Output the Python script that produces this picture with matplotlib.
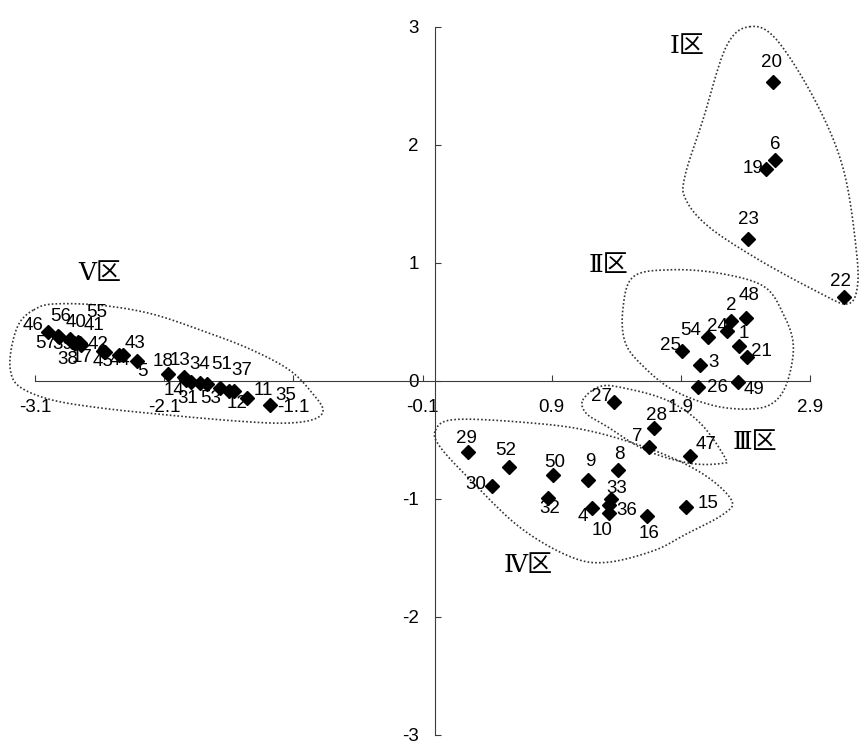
import numpy as np
import matplotlib
matplotlib.use("Agg")
import matplotlib.pyplot as plt

plt.rcParams['font.family'] = ['Liberation Sans', 'DejaVu Sans']

# ---- data: sample id, PC1 (x), PC2 (y) ----
ids = [46, 56, 57, 40, 39, 55, 41, 38, 17, 42, 45, 44, 43, 5,
       18, 13, 14, 34, 31, 53, 51, 37, 12, 11, 35,
       20, 6, 19, 23, 22,
       48, 2, 24, 54, 1, 21, 25, 3, 26, 49,
       27, 28, 7, 47,
       29, 52, 30, 50, 32, 9, 4, 8, 33, 36, 10, 16, 15]
x_vals = [-3.00, -2.92, -2.91, -2.83, -2.81, -2.77, -2.75, -2.80, -2.74, -2.57, -2.56, -2.45, -2.42, -2.31,
          -2.07, -1.95, -1.93, -1.89, -1.82, -1.77, -1.67, -1.60, -1.56, -1.46, -1.28,
          2.61, 2.63, 2.56, 2.42, 3.16,
          2.40, 2.29, 2.26, 2.11, 2.35, 2.41, 1.91, 2.05, 2.03, 2.34,
          1.38, 1.69, 1.65, 1.97,
          0.25, 0.57, 0.44, 0.91, 0.87, 1.18, 1.21, 1.41, 1.36, 1.34, 1.34, 1.64, 1.94]
y_vals = [0.41, 0.38, 0.37, 0.35, 0.33, 0.33, 0.32, 0.32, 0.30, 0.25, 0.24, 0.22, 0.22, 0.17,
          0.06, 0.03, 0.01, -0.01, -0.02, -0.03, -0.06, -0.09, -0.09, -0.15, -0.21,
          2.53, 1.87, 1.79, 1.20, 0.71,
          0.53, 0.51, 0.42, 0.37, 0.29, 0.20, 0.25, 0.13, -0.05, -0.01,
          -0.18, -0.40, -0.56, -0.64,
          -0.60, -0.73, -0.89, -0.80, -0.99, -0.84, -1.08, -0.76, -1.00, -1.05, -1.12, -1.15, -1.07]

x_ticks = [-3.1, -2.1, -1.1, -0.1, 0.9, 1.9, 2.9]
y_ticks = [-3, -2, -1, 0, 1, 2, 3]

region_names = ["Ⅰ区", "Ⅱ区", "Ⅲ区", "Ⅳ区", "Ⅴ区"]
region_text_pos = [(1.95, 2.83), (1.34, 0.98), (2.47, -0.52), (0.72, -1.57), (-2.60, 0.91)]

# outline control points of the dotted region boundaries (data coords)
outlines = [
    [(2.43, 3.00), (2.64, 2.89), (2.95, 2.35), (3.16, 1.78), (3.26, 1.08), (3.26, 0.76),
     (3.18, 0.65), (2.98, 0.74), (2.51, 1.02), (2.12, 1.30), (1.94, 1.53), (1.93, 1.73),
     (2.07, 2.21), (2.25, 2.83)],
    [(1.82, 0.94), (2.20, 0.91), (2.54, 0.80), (2.69, 0.57), (2.77, 0.30), (2.72, -0.02),
     (2.61, -0.19), (2.43, -0.24), (2.15, -0.21), (1.84, -0.08), (1.61, 0.12), (1.47, 0.32),
     (1.45, 0.60), (1.53, 0.88)],
    [(1.14, -0.165), (1.27, -0.05), (1.45, -0.06), (1.79, -0.165), (2.05, -0.36), (2.24, -0.65),
     (2.22, -0.70), (1.97, -0.70), (1.63, -0.59), (1.33, -0.39), (1.17, -0.28)],
    [(0.0, -0.42), (0.14, -0.33), (0.65, -0.35), (1.17, -0.42), (1.69, -0.59), (2.07, -0.79),
     (2.29, -1.01), (2.23, -1.13), (1.94, -1.30), (1.69, -1.44), (1.32, -1.54), (1.04, -1.49),
     (0.65, -1.24), (0.27, -0.84), (0.035, -0.56)],
    [(-3.11, 0.60), (-2.96, 0.65), (-2.60, 0.64), (-2.21, 0.57), (-1.82, 0.43), (-1.44, 0.27),
     (-1.13, 0.09), (-0.95, -0.11), (-0.87, -0.25), (-0.95, -0.33), (-1.18, -0.36), (-1.56, -0.34),
     (-2.08, -0.29), (-2.60, -0.23), (-2.98, -0.16), (-3.22, -0.05), (-3.29, 0.09), (-3.28, 0.29),
     (-3.22, 0.49)],
]

# label offsets in pixels (dx, dy up) relative to each marker
label_offsets = {
    46: (-15, 7), 56: (3, 19), 40: (6, 17), 55: (19, 29), 41: (14, 17), 57: (-14, -6),
    39: (-10, -3), 38: (-6, -17), 17: (1, -12), 42: (-5, 7), 45: (-2, -9), 44: (1, -6),
    43: (12, 11), 5: (5, -11),
    18: (-5, 12), 13: (-4, 17), 34: (8, 17), 51: (2, 23), 37: (13, 21), 14: (-12, -11),
    31: (-13, -15), 53: (4, -14), 12: (3, -12), 11: (16, 8), 35: (16, 10),
    20: (-1, 20), 6: (0, 16), 19: (-13, 1), 23: (0, 20), 22: (-3, 15),
    48: (4, 23), 2: (0, 15), 24: (-10, 5), 54: (-17, 7), 1: (5, 13), 21: (15, 6),
    25: (-12, 6), 3: (13, 3), 26: (20, -1), 49: (16, -8),
    27: (-12, 5), 28: (3, 12), 7: (-11, 10), 47: (16, 12),
    29: (-1, 13), 52: (-3, 16), 30: (-17, 1), 50: (2, 13), 32: (2, -11), 9: (2, 18),
    4: (-9, -8), 8: (2, 16), 33: (6, 10), 36: (18, -6), 10: (-7, -18), 16: (2, -17), 15: (22, 3),
}


def closed_spline(pts, n=40):
    p = np.array(pts, dtype=float)
    m = len(p)
    out = []
    for i in range(m):
        p0, p1, p2, p3 = p[(i - 1) % m], p[i], p[(i + 1) % m], p[(i + 2) % m]
        t = np.linspace(0, 1, n, endpoint=False)[:, None]
        seg = 0.5 * ((2 * p1) + (-p0 + p2) * t + (2 * p0 - 5 * p1 + 4 * p2 - p3) * t ** 2
                     + (-p0 + 3 * p1 - 3 * p2 + p3) * t ** 3)
        out.append(seg)
    out = np.vstack(out)
    return np.vstack([out, out[:1]])


fig = plt.figure(figsize=(8.67, 7.48), dpi=100)
ax = fig.add_axes([0.0105, 0.0020, 0.9880, 0.97807])
ax.set_xlim(-3.3, 3.33)
ax.set_ylim(-3.1, 3.1)

axis_color = '#3c3c3c'
for side in ['top', 'right']:
    ax.spines[side].set_visible(False)
ax.spines['left'].set_position(('data', 0))
ax.spines['bottom'].set_position(('data', 0))
ax.spines['left'].set_bounds(-3, 3)
ax.spines['bottom'].set_bounds(-3.1, 2.9)
for side in ['left', 'bottom']:
    ax.spines[side].set_color(axis_color)
    ax.spines[side].set_linewidth(0.8)

ax.set_xticks(x_ticks)
ax.set_xticklabels([f"{v:.1f}" for v in x_ticks])
ax.set_yticks(y_ticks)
ax.set_yticklabels([str(v) for v in y_ticks])
ax.tick_params(axis='x', direction='in', length=4, width=0.8, color=axis_color,
               labelsize=13.5, pad=13.5, labelcolor='black')
ax.tick_params(axis='y', direction='in', length=4, width=0.8, color=axis_color,
               labelsize=13.5, pad=12, labelcolor='black')
ax.set_facecolor('none')

for pts in outlines:
    c = closed_spline(pts)
    ax.plot(c[:, 0], c[:, 1], linestyle=(0, (1, 1.3)), color='#333333', linewidth=1.2, zorder=2)

ax.plot(x_vals, y_vals, linestyle='none', marker='D', markersize=7, color='black', zorder=3)

for i, xv, yv in zip(ids, x_vals, y_vals):
    dx, dy = label_offsets.get(i, (0, 15))
    ax.annotate(str(i), (xv, yv), xytext=(dx, dy), textcoords='offset pixels',
                ha='center', va='center', fontsize=13.5, color='black', zorder=4)

for name, (tx, ty) in zip(region_names, region_text_pos):
    ax.text(tx, ty, name, ha='center', va='center', fontsize=18,
            family=['DejaVu Serif', 'Noto Sans CJK SC'], color='black')

fig.savefig('out.png', dpi=100)
